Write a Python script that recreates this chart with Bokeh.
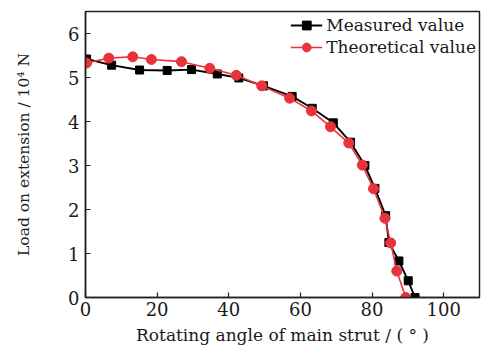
from bokeh.plotting import figure
from bokeh.models import Range1d, FixedTicker
from bokeh.embed import file_html
from bokeh.resources import INLINE

# Data
measured_angle = [0.3, 7.3, 15.1, 22.8, 29.6, 36.8, 42.8, 49.7, 57.7, 63.3, 69.2, 74.0, 78.0, 80.8, 83.8, 84.7, 87.5, 90.1, 92.0]
measured_load = [5.42, 5.28, 5.17, 5.16, 5.18, 5.08, 4.99, 4.81, 4.57, 4.30, 3.97, 3.53, 3.00, 2.48, 1.86, 1.25, 0.83, 0.38, 0.0]
theory_angle = [0.3, 6.5, 13.2, 18.4, 26.8, 34.7, 42.1, 49.2, 57.0, 63.1, 68.4, 73.5, 77.3, 80.4, 83.6, 85.2, 86.9, 89.4]
theory_load = [5.33, 5.44, 5.47, 5.41, 5.36, 5.21, 5.05, 4.81, 4.53, 4.24, 3.88, 3.51, 3.01, 2.47, 1.80, 1.24, 0.60, 0.0]

x_ticks = [0, 20, 40, 60, 80, 100]
y_ticks = [0, 1, 2, 3, 4, 5, 6]

FONT = "DejaVu Serif"
TXT = "#1a1a1a"
RED = "#e8333c"

p = figure(width=482, height=347, output_backend="svg", toolbar_location=None,
           x_range=Range1d(0, 110), y_range=Range1d(0, 6.5),
           min_border_left=85, min_border_right=3, min_border_top=11, min_border_bottom=48)

p.line(measured_angle, measured_load, line_color="black", line_width=1.9, legend_label="Measured value")
p.scatter(measured_angle, measured_load, marker="square", size=8, fill_color="black", line_color="black",
          legend_label="Measured value")
p.line(theory_angle, theory_load, line_color=RED, line_width=1.6, legend_label="Theoretical value")
p.scatter(theory_angle, theory_load, marker="circle", size=10, fill_color=RED, line_color=RED,
          legend_label="Theoretical value")

p.xgrid.visible = False
p.ygrid.visible = False
p.outline_line_color = "#222"
p.outline_line_width = 1.5

p.xaxis.ticker = FixedTicker(ticks=x_ticks)
p.yaxis.ticker = FixedTicker(ticks=y_ticks)
for ax in (p.xaxis, p.yaxis):
    ax.major_tick_in = 5
    ax.major_tick_out = 0
    ax.minor_tick_line_color = None
    ax.axis_line_color = "#222"
    ax.axis_line_width = 1.5
    ax.major_tick_line_color = "#222"
    ax.major_tick_line_width = 1.2
    ax.major_label_text_font = FONT
    ax.major_label_text_font_size = "18px"
    ax.major_label_text_color = TXT
    ax.axis_label_text_font = FONT
    ax.axis_label_text_font_style = "normal"
    ax.axis_label_text_color = TXT

p.xaxis.axis_label_text_font_size = "17px"
p.yaxis.axis_label_text_font_size = "15.5px"
p.xaxis.axis_label = "Rotating angle of main strut / ( \u00b0 )"
p.yaxis.axis_label = "Load on extension / 10\u2074 N"
p.xaxis.major_label_standoff = 4
p.xaxis.axis_label_standoff = 6
p.yaxis.major_label_standoff = 6
p.yaxis.axis_label_standoff = 32

lg = p.legend[0]
lg.location = "top_right"
lg.border_line_color = None
lg.background_fill_alpha = 0
lg.label_text_font = FONT
lg.label_text_font_size = "17px"
lg.label_text_color = TXT
lg.glyph_width = 32
lg.glyph_height = 22
lg.label_height = 22
lg.label_standoff = 4
lg.spacing = 0
lg.padding = 3
lg.margin = 3

open("out.html", "w").write(file_html(p, INLINE))
